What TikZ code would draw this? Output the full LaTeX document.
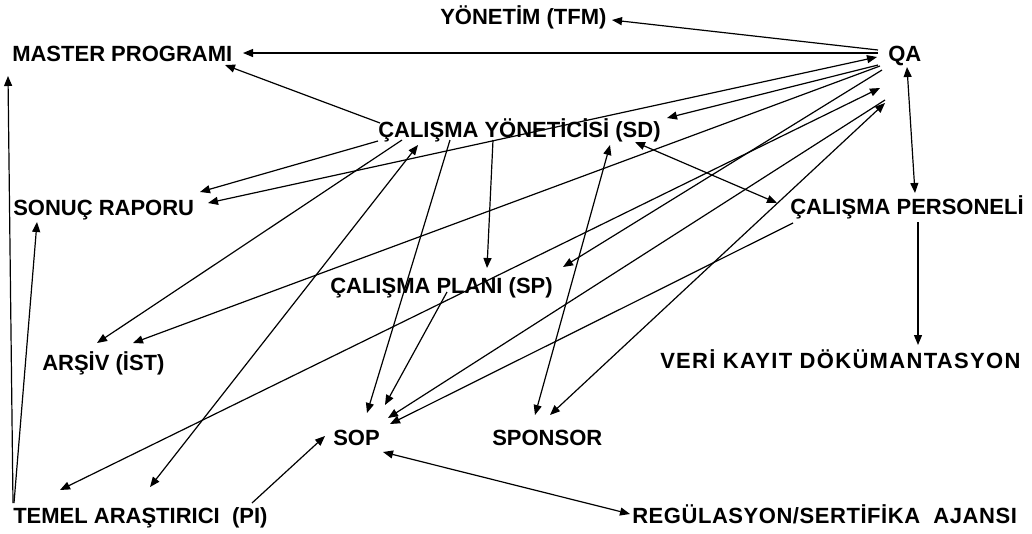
\documentclass[tikz,border=0pt]{standalone}
\usepackage{fontspec}
\setmainfont{Liberation Sans}
\usetikzlibrary{arrows.meta}

\begin{document}
\begin{tikzpicture}[
    x=0.75pt, y=-0.75pt,
    >={Triangle[length=7.5pt, width=6pt]},
    lbl/.style={anchor=base west, inner sep=0pt, font=\fontsize{16.5pt}{19pt}\selectfont\bfseries},
    wide/.style={lbl, font=\fontsize{16.5pt}{19pt}\selectfont\bfseries\addfontfeatures{LetterSpace=#1}},
    line/.style={->, line width=0.9pt},
    dline/.style={<->, line width=0.9pt}
]
\useasboundingbox (0,0) rectangle (1032,533);

% Roles and documents
\node[lbl] (tfm) at (440,24) {YÖNETİM (TFM)};
\node[lbl] (master) at (12,61) {MASTER PROGRAMI};
\node[lbl] (qa) at (888,61) {QA};
\node[lbl] (sd) at (378,137) {ÇALIŞMA YÖNETİCİSİ (SD)};
\node[lbl] (sonuc) at (13,215) {SONUÇ RAPORU};
\node[lbl] (pers) at (790,214) {ÇALIŞMA PERSONELİ};
\node[lbl] (sp) at (330,293) {ÇALIŞMA PLANI (SP)};
\node[lbl] (arsiv) at (42,370) {ARŞİV (İST)};
\node[wide=6] (veri) at (660,368) {VERİ KAYIT DÖKÜMANTASYON};
\node[lbl] (sop) at (333,445) {SOP};
\node[lbl] (sponsor) at (492,445) {SPONSOR};
\node[lbl] (pi) at (13,523) {TEMEL ARAŞTIRICI\ \ (PI)};
\node[wide=2.5] (reg) at (632,523) {REGÜLASYON/SERTİFİKA\ \ AJANSI};

% QA links
\draw[line] ([shift={(-10,-11)}]qa.base west) -- ([shift={(172,-4)}]tfm.base west);
\draw[line] ([shift={(-10,-8)}]qa.base west) -- ([shift={(231,-8)}]master.base west);
\draw[dline] ([shift={(195,-12)}]sonuc.base west) -- ([shift={(-11,-4)}]qa.base west);
\draw[line] ([shift={(-10,4)}]qa.base west) -- ([shift={(289,-19)}]sd.base west);
\draw[line] ([shift={(-8,5)}]qa.base west) -- ([shift={(91,-27)}]arsiv.base west);
\draw[line] ([shift={(-6,9)}]qa.base west) -- ([shift={(233,-26)}]sp.base west);
\draw[dline] ([shift={(47,-33)}]pi.base west) -- ([shift={(-8,27)}]qa.base west);
\draw[line] ([shift={(-3,39)}]qa.base west) -- ([shift={(55,-27)}]sop.base west);
\draw[dline] ([shift={(58,-30)}]sponsor.base west) -- ([shift={(-3,42)}]qa.base west);
\draw[dline] ([shift={(19,6)}]qa.base west) -- ([shift={(125,-21)}]pers.base west);

% Study director links
\draw[line] ([shift={(2,-14)}]sd.base west) -- ([shift={(213,4)}]master.base west);
\draw[line] ([shift={(0,4)}]sd.base west) -- ([shift={(187,-23)}]sonuc.base west);
\draw[line] ([shift={(24,3)}]sd.base west) -- ([shift={(55,-27)}]arsiv.base west);
\draw[line] ([shift={(115,3)}]sd.base west) -- ([shift={(157,-25)}]sp.base west);
\draw[dline] ([shift={(40,8)}]sd.base west) -- ([shift={(137,-36)}]pi.base west);
\draw[line] ([shift={(72,3)}]sd.base west) -- ([shift={(34,-32)}]sop.base west);
\draw[dline] ([shift={(257,5)}]sd.base west) -- ([shift={(-13,-11)}]pers.base west);
\draw[dline] ([shift={(232,8)}]sd.base west) -- ([shift={(43,-30)}]sponsor.base west);

% Remaining links
\draw[line] ([shift={(0,-20)}]pi.base west) -- ([shift={(-4,15)}]master.base west);
\draw[line] ([shift={(1,-20)}]pi.base west) -- ([shift={(24,7)}]sonuc.base west);
\draw[line] ([shift={(239,-20)}]pi.base west) -- ([shift={(-8,-9)}]sop.base west);
\draw[line] ([shift={(117,-1)}]sp.base west) -- ([shift={(52,-40)}]sop.base west);
\draw[line] ([shift={(3,9)}]pers.base west) -- ([shift={(57,-21)}]sop.base west);
\draw[line] ([shift={(128,8)}]pers.base west) -- ([shift={(258,-23)}]veri.base west);
\draw[dline] ([shift={(50,7)}]sop.base west) -- ([shift={(-2,-9)}]reg.base west);

\end{tikzpicture}
\end{document}
